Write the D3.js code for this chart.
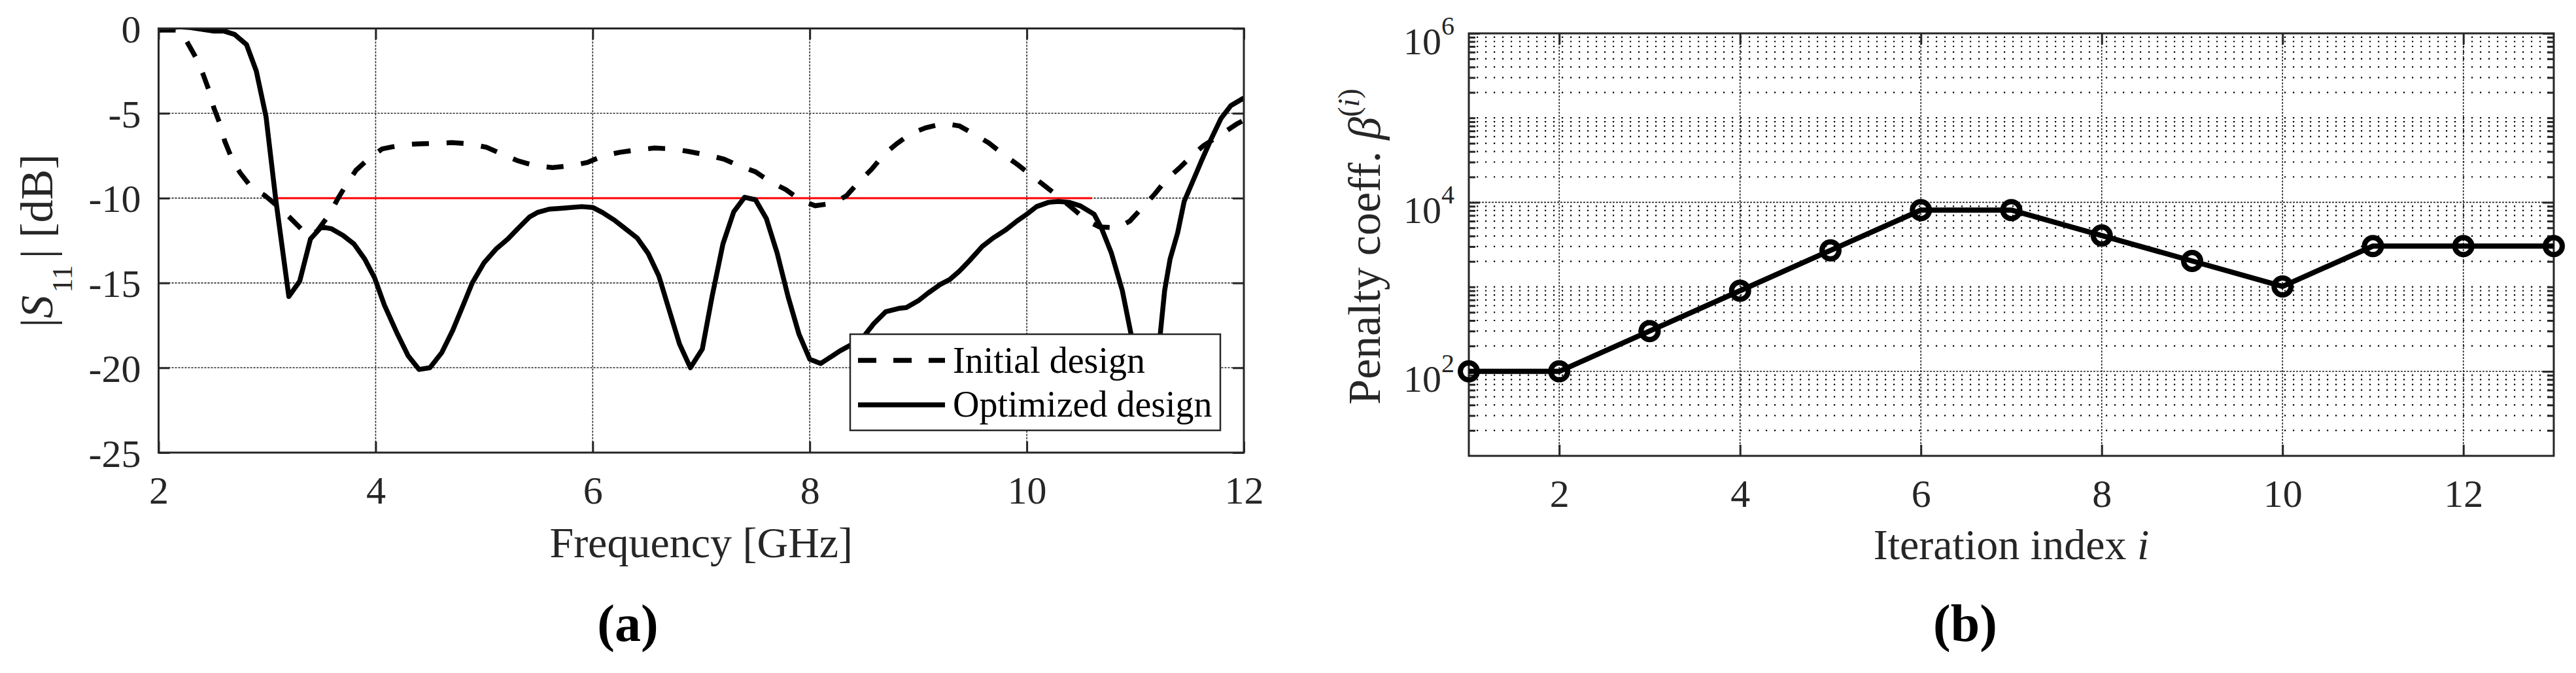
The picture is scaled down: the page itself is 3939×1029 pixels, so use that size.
<!DOCTYPE html>
<html>
<head>
<meta charset="utf-8">
<script src="https://cdn.jsdelivr.net/npm/d3@7"></script>
<style>
  body { margin: 0; background: #fff; }
  svg { display: block; }
</style>
</head>
<body>
<svg id="fig" width="3939" height="1029"></svg>
<script>
// ---- (a) reflection response ----
var freqInit = [2.0, 2.19, 2.26, 2.36, 2.41, 2.47, 2.51, 2.57, 2.61, 2.68, 2.75, 2.86, 2.98, 3.1, 3.21, 3.35, 3.39,
	3.46, 3.58, 3.65, 3.74, 3.82, 3.95, 4.06, 4.24, 4.39, 4.55, 4.7, 4.86, 5.02, 5.18, 5.31, 5.47, 5.63, 5.79,
	5.95, 6.1, 6.25, 6.42, 6.57, 6.74, 6.88, 7.05, 7.21, 7.35, 7.5, 7.64, 7.78, 7.91, 8.05, 8.22, 8.34, 8.46,
	8.57, 8.68, 8.8, 8.93, 9.07, 9.24, 9.38, 9.52, 9.65, 9.79, 9.92, 10.05, 10.17, 10.31, 10.42, 10.56, 10.67,
	10.84, 10.95, 11.08, 11.18, 11.28, 11.41, 11.53, 11.63, 11.79, 11.93, 12.0];
var s11Init = [-0.1, -0.1, -0.77, -1.9, -2.7, -3.75, -4.7, -5.7, -6.65, -7.75, -8.5, -9.4, -9.85, -10.5, -11.15, -12.05, -12.2,
	-11.95, -10.9, -10.05, -9.1, -8.35, -7.6, -7.1, -6.87, -6.8, -6.77, -6.73, -6.8, -7.0, -7.45, -7.8, -8.1, -8.2, -8.1,
	-7.9, -7.5, -7.3, -7.15, -7.05, -7.1, -7.25, -7.45, -7.7, -8.1, -8.45, -9.05, -9.5, -10.1, -10.45, -10.3, -9.85, -9.0,
	-8.3, -7.45, -6.8, -6.2, -5.85, -5.6, -5.75, -6.25, -6.75, -7.45, -8.05, -8.7, -9.3, -10.0, -10.6, -11.35, -11.7,
	-11.75, -11.35, -10.45, -9.75, -8.95, -8.2, -7.45, -6.9, -6.25, -5.65, -5.4];

var freqOpt = [2.0, 2.19, 2.3, 2.5, 2.6, 2.7, 2.81, 2.9, 2.99, 3.08, 3.2, 3.3, 3.4, 3.5, 3.59, 3.7, 3.8, 3.9, 3.99,
	4.08, 4.2, 4.3, 4.4, 4.5, 4.61, 4.71, 4.82, 4.89, 5.0, 5.11, 5.22, 5.31, 5.42, 5.49, 5.6, 5.71, 5.9, 6.0,
	6.09, 6.2, 6.29, 6.41, 6.51, 6.61, 6.7, 6.8, 6.9, 7.01, 7.1, 7.2, 7.3, 7.4, 7.5, 7.6, 7.7, 7.8, 7.9, 8.0,
	8.1, 8.28, 8.48, 8.59, 8.7, 8.82, 8.89, 9.0, 9.09, 9.2, 9.29, 9.38, 9.47, 9.59, 9.69, 9.8, 9.91, 10.0,
	10.09, 10.2, 10.29, 10.39, 10.49, 10.62, 10.69, 10.78, 10.88, 10.96, 11.05, 11.12, 11.18, 11.23, 11.27,
	11.32, 11.39, 11.45, 11.52, 11.61, 11.7, 11.79, 11.88, 12.0];
var s11Opt = [-0.1, 0.1, 0.05, -0.15, -0.15, -0.35, -0.95, -2.5, -5.2, -10.1, -15.8, -14.9, -12.4, -11.7, -11.8, -12.2, -12.7, -13.6, -14.7,
	-16.3, -18.0, -19.3, -20.1, -20.0, -19.1, -17.8, -16.1, -15.0, -13.8, -13.0, -12.4, -11.8, -11.1, -10.85, -10.65, -10.6, -10.5, -10.55,
	-10.85, -11.3, -11.75, -12.35, -13.25, -14.6, -16.5, -18.6, -20.0, -18.9, -15.8, -12.7, -10.8, -9.95, -10.1, -11.2, -13.25, -15.8, -18.0, -19.5,
	-19.75, -19.0, -18.3, -17.4, -16.7, -16.5, -16.45, -16.05, -15.6, -15.1, -14.8, -14.3, -13.7, -12.85, -12.35, -11.9, -11.35, -10.95,
	-10.5, -10.25, -10.2, -10.25, -10.45, -10.95, -11.8, -13.25, -15.45, -18.0, -21.5, -22.5, -21.0, -18.0, -15.45,
	-13.6, -12.05, -10.2, -9.15, -7.8, -6.5, -5.3, -4.55, -4.1];

var specBand = [3.1, 10.6];
var specLevel = -10;
var freqTicks = [2, 4, 6, 8, 10, 12];
var dbTicks = [0, -5, -10, -15, -20, -25];
var legendNames = ["Initial design", "Optimized design"];

// ---- (b) penalty coefficient ----
var iterations = [1, 2, 3, 4, 5, 6, 7, 8, 9, 10, 11, 12, 13];
var penalty = [100, 100, 300, 900, 2700, 8100, 8100, 4050, 2025, 1012, 3037, 3037, 3037];
var iterTicks = [2, 4, 6, 8, 10, 12];
var penaltyTicks = [1e2, 1e4, 1e6];

var ink = "#262626";
var serif = '"Liberation Serif", "Times New Roman", serif';

var svg = d3.select("#fig");
svg.append("rect").attr("width", 3939).attr("height", 1029).attr("fill", "#fff");

function cleanAxis(g, fontSize) {
	g.select(".domain").remove();
	g.attr("font-family", serif);
	g.selectAll(".tick line").attr("stroke", ink).attr("stroke-width", 3);
	g.selectAll(".tick text").attr("fill", ink).attr("font-size", fontSize).attr("font-family", serif);
}

// =========================== panel (a) ===========================
var A = {left: 242.5, right: 1902, top: 43.5, bottom: 692};
var xA = d3.scaleLinear().domain([2, 12]).range([A.left, A.right]);
var yA = d3.scaleLinear().domain([-25, 0]).range([A.bottom, A.top]);
var gA = svg.append("g");

svg.append("defs").append("clipPath").attr("id", "clipA")
	.append("rect").attr("x", A.left).attr("y", A.top)
	.attr("width", A.right - A.left).attr("height", A.bottom - A.top);

// grid
gA.append("g").selectAll("line")
	.data(freqTicks.slice(1, -1))
	.enter().append("line")
	.attr("x1", d => xA(d)).attr("x2", d => xA(d))
	.attr("y1", A.top).attr("y2", A.bottom)
	.attr("stroke", ink).attr("stroke-width", 1.6).attr("stroke-dasharray", "3,2");
gA.append("g").selectAll("line")
	.data(dbTicks.slice(1, -1))
	.enter().append("line")
	.attr("x1", A.left).attr("x2", A.right)
	.attr("y1", d => yA(d)).attr("y2", d => yA(d))
	.attr("stroke", ink).attr("stroke-width", 1.6).attr("stroke-dasharray", "3,2");

// -10 dB specification
gA.append("line")
	.attr("x1", xA(specBand[0])).attr("x2", xA(specBand[1]))
	.attr("y1", yA(specLevel)).attr("y2", yA(specLevel))
	.attr("stroke", "#ff0000").attr("stroke-width", 3);

var lineA = d3.line().x(d => xA(d[0])).y(d => yA(d[1]));
var curves = gA.append("g").attr("clip-path", "url(#clipA)");
curves.append("path")
	.datum(d3.zip(freqInit, s11Init))
	.attr("d", lineA)
	.attr("fill", "none").attr("stroke", "#000").attr("stroke-width", 7.5)
	.attr("stroke-dasharray", "26,27");
curves.append("path")
	.datum(d3.zip(freqOpt, s11Opt))
	.attr("d", lineA)
	.attr("fill", "none").attr("stroke", "#000").attr("stroke-width", 7.5)
	.attr("stroke-linejoin", "round");

// axes (ticks inside, box on)
var axA = gA.append("g").attr("transform", "translate(0," + A.bottom + ")")
	.call(d3.axisBottom(xA).tickValues(freqTicks).tickSizeInner(-17).tickSizeOuter(0).tickFormat(d => String(d)));
cleanAxis(axA, 60);
axA.selectAll(".tick text").attr("y", 78).attr("dy", null);

var axAt = gA.append("g").attr("transform", "translate(0," + A.top + ")")
	.call(d3.axisTop(xA).tickValues(freqTicks).tickSizeInner(-17).tickSizeOuter(0).tickFormat(""));
cleanAxis(axAt, 60);

var ayA = gA.append("g").attr("transform", "translate(" + A.left + ",0)")
	.call(d3.axisLeft(yA).tickValues(dbTicks).tickSizeInner(-17).tickSizeOuter(0).tickPadding(27).tickFormat(d => String(d)));
cleanAxis(ayA, 60);
ayA.selectAll(".tick text").attr("dy", "0.35em");

var ayAr = gA.append("g").attr("transform", "translate(" + A.right + ",0)")
	.call(d3.axisRight(yA).tickValues(dbTicks).tickSizeInner(-17).tickSizeOuter(0).tickFormat(""));
cleanAxis(ayAr, 60);

gA.append("rect")
	.attr("x", A.left).attr("y", A.top)
	.attr("width", A.right - A.left).attr("height", A.bottom - A.top)
	.attr("fill", "none").attr("stroke", ink).attr("stroke-width", 3);

// legend
var leg = gA.append("g");
leg.append("rect")
	.attr("x", 1300).attr("y", 511).attr("width", 566).attr("height", 147)
	.attr("fill", "#fff").attr("stroke", ink).attr("stroke-width", 2.5);
leg.selectAll("line.sample")
	.data(legendNames)
	.enter().append("line")
	.attr("class", "sample")
	.attr("x1", 1312).attr("x2", 1445)
	.attr("y1", (d, i) => 551 + i * 68).attr("y2", (d, i) => 551 + i * 68)
	.attr("stroke", "#000").attr("stroke-width", 7.5)
	.attr("stroke-dasharray", (d, i) => i === 0 ? "28,26" : null);
leg.selectAll("text")
	.data(legendNames)
	.enter().append("text")
	.attr("x", 1457).attr("y", (d, i) => 570 + i * 67)
	.attr("font-family", serif).attr("font-size", 56).attr("fill", "#000")
	.text(d => d);

// labels
svg.append("text")
	.attr("x", (A.left + A.right) / 2).attr("y", 852)
	.attr("text-anchor", "middle")
	.attr("font-family", serif).attr("font-size", 66).attr("fill", ink)
	.text("Frequency [GHz]");

var ylA = svg.append("text")
	.attr("transform", "translate(80,368) rotate(-90)")
	.attr("text-anchor", "middle")
	.attr("font-family", serif).attr("font-size", 70).attr("fill", ink);
ylA.append("tspan").text("|");
ylA.append("tspan").attr("font-style", "italic").text("S");
ylA.append("tspan").attr("font-size", 44).attr("dy", 30).attr("dx", 4).text("11");
ylA.append("tspan").attr("dy", -30).attr("dx", 10).text("| [dB]");

svg.append("text")
	.attr("x", 960).attr("y", 980)
	.attr("text-anchor", "middle")
	.attr("font-family", serif).attr("font-size", 80).attr("font-weight", "bold").attr("fill", "#000")
	.text("(a)");

// =========================== panel (b) ===========================
var B = {left: 2246, right: 3905, top: 51, bottom: 697};
var xB = d3.scaleLinear().domain([1, 13]).range([B.left, B.right]);
var yB = d3.scaleLog().domain([10, 1e6]).range([B.bottom, B.top]);
var gB = svg.append("g");
var minorB = yB.ticks().filter(v => penaltyTicks.indexOf(v) < 0 && v > 10 && v < 1e6);

// minor grid
gB.append("g").selectAll("line")
	.data(minorB)
	.enter().append("line")
	.attr("x1", B.left + 12).attr("x2", B.right)
	.attr("y1", d => yB(d)).attr("y2", d => yB(d))
	.attr("stroke", "#000").attr("stroke-width", 2.2).attr("stroke-dasharray", "2.2,10.8");
// major grid
gB.append("g").selectAll("line")
	.data(penaltyTicks.filter(v => v < 1e6))
	.enter().append("line")
	.attr("x1", B.left).attr("x2", B.right)
	.attr("y1", d => yB(d)).attr("y2", d => yB(d))
	.attr("stroke", ink).attr("stroke-width", 1.6).attr("stroke-dasharray", "3,2");
gB.append("g").selectAll("line")
	.data(iterTicks)
	.enter().append("line")
	.attr("x1", d => xB(d)).attr("x2", d => xB(d))
	.attr("y1", B.top).attr("y2", B.bottom)
	.attr("stroke", ink).attr("stroke-width", 1.6).attr("stroke-dasharray", "3,2");

// axes
var axB = gB.append("g").attr("transform", "translate(0," + B.bottom + ")")
	.call(d3.axisBottom(xB).tickValues(iterTicks).tickSizeInner(-17).tickSizeOuter(0).tickFormat(d => String(d)));
cleanAxis(axB, 60);
axB.selectAll(".tick text").attr("y", 78).attr("dy", null);

var axBt = gB.append("g").attr("transform", "translate(0," + B.top + ")")
	.call(d3.axisTop(xB).tickValues(iterTicks).tickSizeInner(-17).tickSizeOuter(0).tickFormat(""));
cleanAxis(axBt, 60);

var ayB = gB.append("g").attr("transform", "translate(" + B.left + ",0)")
	.call(d3.axisLeft(yB).tickValues(penaltyTicks).tickSizeInner(-17).tickSizeOuter(0).tickPadding(22).tickFormat(() => ""));
cleanAxis(ayB, 58);
ayB.selectAll(".tick text").attr("y", 31).attr("dy", null)
	.each(function (d) {
		var t = d3.select(this);
		t.append("tspan").text("10");
		t.append("tspan").attr("font-size", 40).attr("dy", -30).text(Math.round(Math.log10(d)));
	});
var ayBm = gB.append("g").attr("transform", "translate(" + B.left + ",0)")
	.call(d3.axisLeft(yB).tickValues(minorB).tickSizeInner(-10).tickSizeOuter(0).tickFormat(""));
cleanAxis(ayBm, 58);

var ayBr = gB.append("g").attr("transform", "translate(" + B.right + ",0)")
	.call(d3.axisRight(yB).tickValues(penaltyTicks).tickSizeInner(-17).tickSizeOuter(0).tickFormat(""));
cleanAxis(ayBr, 58);
var ayBrm = gB.append("g").attr("transform", "translate(" + B.right + ",0)")
	.call(d3.axisRight(yB).tickValues(minorB).tickSizeInner(-10).tickSizeOuter(0).tickFormat(""));
cleanAxis(ayBrm, 58);

gB.append("rect")
	.attr("x", B.left).attr("y", B.top)
	.attr("width", B.right - B.left).attr("height", B.bottom - B.top)
	.attr("fill", "none").attr("stroke", ink).attr("stroke-width", 3);

// data
var lineB = d3.line().x(d => xB(d[0])).y(d => yB(d[1]));
gB.append("path")
	.datum(d3.zip(iterations, penalty))
	.attr("d", lineB)
	.attr("fill", "none").attr("stroke", "#000").attr("stroke-width", 8)
	.attr("stroke-linejoin", "round");
gB.append("g").selectAll("circle")
	.data(d3.zip(iterations, penalty))
	.enter().append("circle")
	.attr("cx", d => xB(d[0])).attr("cy", d => yB(d[1]))
	.attr("r", 13)
	.attr("fill", "none").attr("stroke", "#000").attr("stroke-width", 8);

// labels
var xlB = svg.append("text")
	.attr("x", (B.left + B.right) / 2).attr("y", 855)
	.attr("text-anchor", "middle")
	.attr("font-family", serif).attr("font-size", 66).attr("fill", ink);
xlB.append("tspan").text("Iteration index ");
xlB.append("tspan").attr("font-style", "italic").text("i");

var ylB = svg.append("text")
	.attr("transform", "translate(2110,377) rotate(-90)")
	.attr("text-anchor", "middle")
	.attr("font-family", serif).attr("font-size", 70).attr("fill", ink);
ylB.append("tspan").text("Penalty coeff. ");
ylB.append("tspan").attr("font-style", "italic").text("β");
ylB.append("tspan").attr("font-size", 46).attr("dy", -32).text("(");
ylB.append("tspan").attr("font-size", 46).attr("font-style", "italic").text("i");
ylB.append("tspan").attr("font-size", 46).text(")");

svg.append("text")
	.attr("x", 3005).attr("y", 980)
	.attr("text-anchor", "middle")
	.attr("font-family", serif).attr("font-size", 80).attr("font-weight", "bold").attr("fill", "#000")
	.text("(b)");
</script>
</body>
</html>
